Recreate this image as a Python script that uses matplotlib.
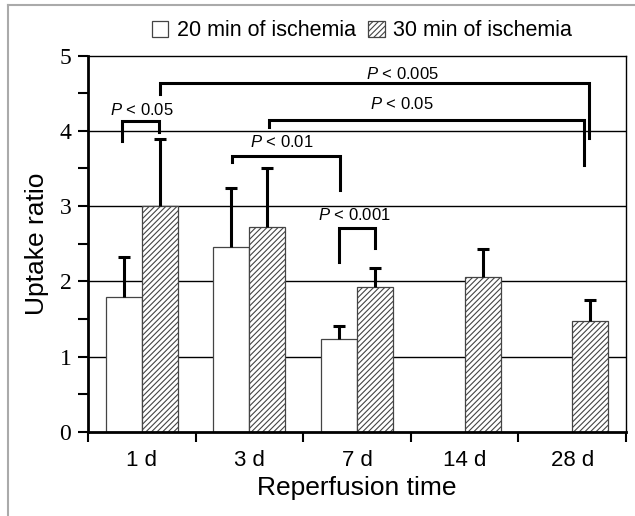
import numpy as np
import matplotlib.pyplot as plt
from matplotlib.patches import Patch
from matplotlib.lines import Line2D

plt.rcParams['font.family'] = ['Liberation Sans', 'DejaVu Sans']
plt.rcParams['mathtext.fontset'] = 'custom'
plt.rcParams['mathtext.it'] = 'Liberation Sans:italic'
plt.rcParams['mathtext.rm'] = 'Liberation Sans'
plt.rcParams['hatch.linewidth'] = 0.8
plt.rcParams['hatch.color'] = '#333333'

# Datos
times = ["1 d", "3 d", "7 d", "14 d", "28 d"]
isch20 = [1.79, 2.46, 1.23, np.nan, np.nan]
isch20_err = [0.53, 0.78, 0.18, np.nan, np.nan]
isch30 = [3.0, 2.72, 1.93, 2.06, 1.47]
isch30_err = [0.89, 0.79, 0.25, 0.37, 0.28]
labels = ["20 min of ischemia", "30 min of ischemia"]

fig = plt.figure(figsize=(6.35, 5.16), dpi=100)
ax = fig.add_axes([0.1386, 0.1628, 0.8472, 0.7296])

x = np.arange(len(times))
w = 0.335
a20 = np.array(isch20)
e20 = np.array(isch20_err)
a30 = np.array(isch30)
e30 = np.array(isch30_err)

ax.bar(x - w / 2, a20, w, color='white', edgecolor='#444444', linewidth=0.9, zorder=2)
ax.bar(x + w / 2, a30, w, color='white', edgecolor='#444444', hatch='//////', linewidth=0.9, zorder=2)

# barras de error (solo hacia arriba)
ok = ~np.isnan(a20)
eb1 = ax.errorbar(x[ok] - w / 2, a20[ok], yerr=[np.zeros(ok.sum()), e20[ok]], fmt='none',
                  ecolor='black', elinewidth=2.2, capsize=4, capthick=2.2, zorder=3)
eb2 = ax.errorbar(x + w / 2, a30, yerr=[np.zeros(len(a30)), e30], fmt='none',
                  ecolor='black', elinewidth=2.2, capsize=4, capthick=2.2, zorder=3)
for eb in (eb1, eb2):
    eb[1][0].set_visible(False)

# lineas horizontales
for yv in range(1, 5):
    ax.axhline(yv, color='black', lw=1, zorder=1)

ax.set_xlim(-0.5, 4.5)
ax.set_ylim(0, 5)

for s in ['left', 'bottom']:
    ax.spines[s].set_linewidth(2)
for s in ['top', 'right']:
    ax.spines[s].set_linewidth(1)

ax.set_yticks(range(6))
ax.set_yticks(np.arange(0.5, 5, 1), minor=True)
ax.set_yticklabels([str(i) for i in range(6)], family='Liberation Serif', fontsize=17)
ax.tick_params(axis='y', which='both', direction='out', length=7, width=1.5, pad=5)

ax.set_xticks(np.arange(-0.5, 5, 1))
ax.set_xticklabels([])
ax.set_xticks(x, minor=True)
ax.set_xticklabels(times, minor=True, fontsize=16)
ax.tick_params(axis='x', which='major', direction='out', length=7, width=1.5)
ax.tick_params(axis='x', which='minor', length=0, pad=13)

ax.set_ylabel("Uptake ratio", fontsize=19)
ax.yaxis.set_label_coords(-0.072, 0.5)
ax.set_xlabel("Reperfusion time", fontsize=19)
ax.xaxis.set_label_coords(0.5, -0.118)

# corchetes de significancia
brackets = [
    (-0.183, 0.161, 4.13, 3.87, 3.98, "0.05", 0.0, 4.28),
    (0.168, 4.16, 4.63, 4.49, 3.90, "0.005", 2.42, 4.76),
    (1.18, 4.11, 4.15, 4.05, 3.55, "0.05", 2.42, 4.35),
    (0.834, 1.84, 3.66, 3.58, 3.21, "0.01", 1.30, 3.85),
    (1.83, 2.17, 2.71, 2.26, 2.44, "0.001", 1.98, 2.88),
]
for x1, x2, yt, y1, y2, p, tx, ty in brackets:
    ax.plot([x1, x1, x2, x2], [y1, yt, yt, y2], color='black', lw=2.2, zorder=4,
            solid_joinstyle='miter', clip_on=False)
    ax.text(tx, ty, r'$P$ < ' + p, ha='center', va='center', fontsize=12, zorder=4)

# leyenda
handles = [Patch(facecolor='white', edgecolor='#444444', linewidth=0.9),
           Patch(facecolor='white', edgecolor='#444444', hatch='//////', linewidth=0.9)]
fig.legend(handles, labels, loc='center', bbox_to_anchor=(0.57, 0.94), ncol=2,
           frameon=False, fontsize=15.5, handlelength=0.75, handleheight=0.75,
           handletextpad=0.4, columnspacing=0.6)

# borde gris
fig.add_artist(Line2D([7.5 / 635, 7.5 / 635], [0, 1 - 4.5 / 516], color='#aaaaaa', lw=1.5))
fig.add_artist(Line2D([7.5 / 635, 1], [1 - 4.5 / 516, 1 - 4.5 / 516], color='#aaaaaa', lw=1.5))

fig.savefig("out.png", dpi=100)
